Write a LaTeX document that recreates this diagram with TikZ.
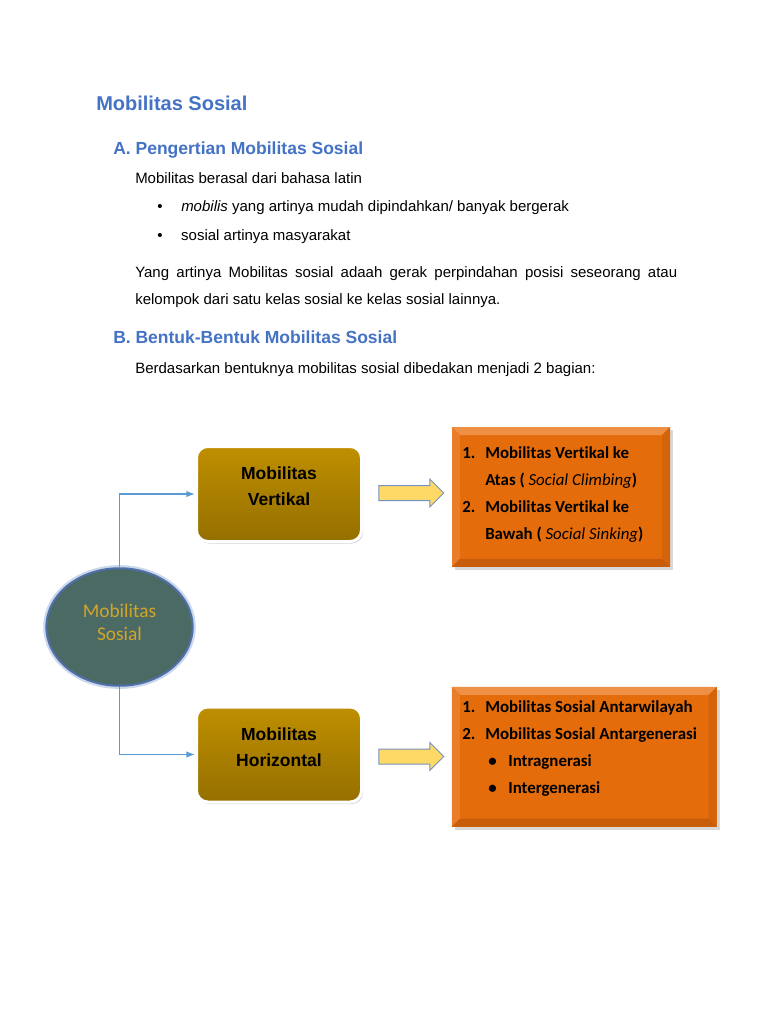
\documentclass[tikz,border=0pt]{standalone}
\usepackage{fontspec}
\setmainfont{Liberation Sans}
\newfontfamily\carlito[Ligatures=CommonOff]{Carlito}
\usetikzlibrary{arrows.meta,positioning,shapes.geometric,shapes.arrows,shadows}
\definecolor{heading}{HTML}{4472C4}
\definecolor{link}{HTML}{5B9BD5}
\definecolor{gold}{HTML}{BF8F00}
\definecolor{ovalfill}{HTML}{4B6A64}
\definecolor{ovalborder}{HTML}{4F6FA8}
\definecolor{ovalglow}{HTML}{CBD7EA}
\definecolor{ovaltext}{HTML}{D2A52A}
\definecolor{orangefill}{HTML}{E46C0A}
\definecolor{orangelight}{HTML}{EE9046}
\definecolor{orangemid}{HTML}{E97D2A}
\definecolor{orangedark}{HTML}{D4640B}
\definecolor{orangedeep}{HTML}{C85D0B}
\definecolor{arrowfill}{HTML}{FFD966}
\definecolor{arrowline}{HTML}{7592C2}
\tikzset{
  flow/.style={
    -{Latex[length=2.4mm,width=1.8mm]},
    draw=link,
    line width=1.2pt
  },
  doctitle/.style={
    anchor=base west,
    inner sep=0pt,
    font=\bfseries\fontsize{16}{19}\selectfont,
    text=heading
  },
  sectionhead/.style={
    anchor=base west,
    inner sep=0pt,
    font=\bfseries\fontsize{14}{17}\selectfont,
    text=heading
  },
  bodytext/.style={
    anchor=base west,
    inner sep=0pt,
    font=\fontsize{12}{14.4}\selectfont
  },
  oval/.style={
    ellipse,
    draw=ovalborder,
    fill=ovalfill,
    line width=1.6pt,
    preaction={draw=ovalglow,line width=5pt},
    minimum width=117pt,
    minimum height=94pt,
    align=center,
    text depth=8pt,
    font=\carlito\fontsize{15.5}{18.7}\selectfont,
    text=ovaltext
  },
  form/.style={
    draw=white,
    line width=2.4pt,
    rounded corners=9pt,
    top color=gold,
    middle color=gold,
    bottom color=gold!78!black,
    drop shadow={shadow xshift=1.2pt,shadow yshift=-1.6pt,opacity=0.35},
    minimum width=132pt,
    minimum height=76pt,
    align=center,
    text depth=12pt,
    font=\bfseries\fontsize{14}{20.8}\selectfont
  },
  pointer/.style={
    single arrow,
    draw=arrowline,
    fill=arrowfill,
    line width=0.8pt,
    minimum height=52pt,
    inner sep=5.6pt,
    single arrow head extend=5.2pt,
    single arrow head indent=0pt
  },
  listbox/.style={
    fill=orangefill,
    outer sep=0pt,
    inner sep=0pt,
    minimum height=111.8pt,
    drop shadow={shadow xshift=2.4pt,shadow yshift=-2.4pt,opacity=0.3}
  },
  listtext/.style={
    anchor=base west,
    inner sep=0pt,
    align=left,
    font=\carlito\bfseries\fontsize{13.5}{21.6}\selectfont
  }
}

\begin{document}
\begin{tikzpicture}[x=0.8pt,y=-0.8pt]
  \fill[white] (0,0) rectangle (768,1024);
  \useasboundingbox (0,0) rectangle (768,1024);

  % text part
  \node[doctitle] (title) at (96,111) {Mobilitas Sosial};
  \node[sectionhead] (sec-a) at (113,155) {A. Pengertian Mobilitas Sosial};
  \node[bodytext] (latin) at (135,184) {Mobilitas berasal dari bahasa latin};
  \node[bodytext] (bullet-1) at (157,212)
    {\makebox[19.2pt][l]{\textbullet}\textit{mobilis} yang artinya mudah dipindahkan/ banyak bergerak};
  \node[bodytext] (bullet-2) at (157,240)
    {\makebox[19.2pt][l]{\textbullet}sosial artinya masyarakat};
  \node[bodytext,anchor=north west,text width=433.6pt,align=justify,
    font=\fontsize{12}{21.6}\selectfont] (meaning) at (135,266.5)
    {Yang artinya Mobilitas sosial adaah gerak perpindahan posisi seseorang atau\linebreak
     kelompok dari satu kelas sosial ke kelas sosial lainnya.};
  \node[sectionhead] (sec-b) at (113,343) {B. Bentuk-Bentuk Mobilitas Sosial};
  \node[bodytext] (forms) at (135,373)
    {Berdasarkan bentuknya mobilitas sosial dibedakan menjadi 2 bagian:};

  % diagram
  \node[oval] (social) at (119.5,627) {Mobilitas\\Sosial};
  \node[form] (vertical) at (279,494) {Mobilitas\\Vertikal};
  \node[form] (horizontal) at (279,754.5) {Mobilitas\\Horizontal};

  \node[pointer] (v-pointer) at (407.5,493) {};
  \node[pointer] (h-pointer) at (407.5,756.5) {};

  \node[listbox,minimum width=174.4pt] (vertical-list) at (561,497) {};
  \node[listbox,minimum width=211.8pt] (horizontal-list) at (584.35,756.85) {};

  % bevel edges
  \foreach \panel in {vertical-list,horizontal-list} {
    \fill[orangelight] (\panel.north west) -- (\panel.north east)
      -- ([shift={(-8,8)}]\panel.north east) -- ([shift={(8,8)}]\panel.north west) -- cycle;
    \fill[orangemid] (\panel.north west) -- ([shift={(8,8)}]\panel.north west)
      -- ([shift={(8,-8)}]\panel.south west) -- (\panel.south west) -- cycle;
    \fill[orangedark] (\panel.north east) -- ([shift={(-8,8)}]\panel.north east)
      -- ([shift={(-8,-8)}]\panel.south east) -- (\panel.south east) -- cycle;
    \fill[orangedeep] (\panel.south west) -- ([shift={(8,-8)}]\panel.south west)
      -- ([shift={(-8,-8)}]\panel.south east) -- (\panel.south east) -- cycle;
  }

  \node[listtext] (vertical-items) at (462,539) {
    \makebox[18.4pt][l]{1.}Mobilitas Vertikal ke\\
    \hspace*{18.4pt}Atas ( {\mdseries\itshape Social Climbing})\\
    \makebox[18.4pt][l]{2.}Mobilitas Vertikal ke\\
    \hspace*{18.4pt}Bawah ( {\mdseries\itshape Social Sinking})
  };
  \node[listtext] (horizontal-items) at (462,793) {
    \makebox[18.4pt][l]{1.}Mobilitas Sosial Antarwilayah\\
    \makebox[18.4pt][l]{2.}Mobilitas Sosial Antargenerasi\\
    \hspace*{20.8pt}\makebox[16pt][l]{\textbullet}Intragnerasi\\
    \hspace*{20.8pt}\makebox[16pt][l]{\textbullet}Intergenerasi
  };

  \draw[flow] (social.north) |- (vertical.west);
  \draw[flow] (social.south) |- (horizontal.west);
\end{tikzpicture}
\end{document}
